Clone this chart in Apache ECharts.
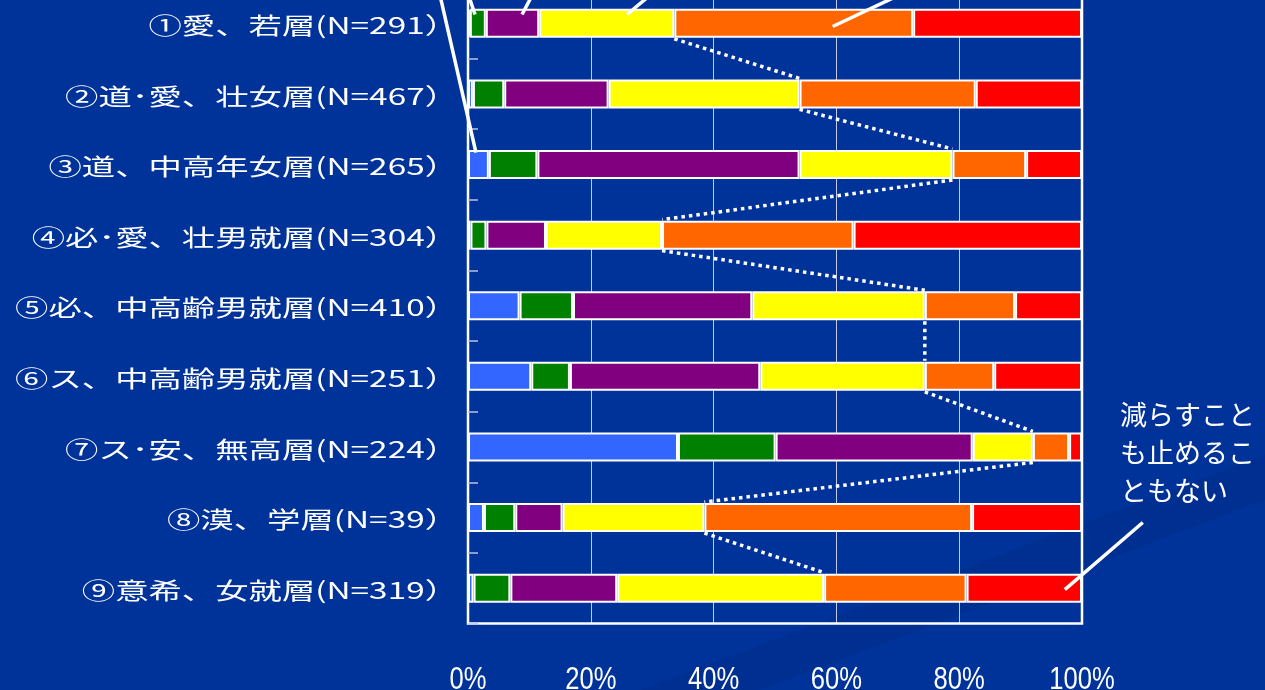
<!DOCTYPE html>
<html>
<head>
<meta charset="utf-8">
<script src="https://cdn.jsdelivr.net/npm/echarts@6/dist/echarts.min.js"></script>
<style>
  html, body { margin: 0; padding: 0; background: #003399; }
  #chart { width: 1265px; height: 690px; }
</style>
</head>
<body>
<div id="chart"></div>
<script>
// Groups (top to bottom)
const categories = [
  '①愛、若層(N=291）',
  '②道･愛、壮女層(N=467）',
  '③道、中高年女層(N=265）',
  '④必･愛、壮男就層(N=304）',
  '⑤必、中高齢男就層(N=410）',
  '⑥ス、中高齢男就層(N=251）',
  '⑦ス･安、無高層(N=224）',
  '⑧漠、学層(N=39）',
  '⑨意希、女就層(N=319）'
];

// Share of each answer per group, in percent
const blueVals   = [0.3, 0.8, 3.4, 0.4, 8.4, 10.3, 34.2, 2.6, 0.9];
const greenVals  = [2.6, 5.1, 7.9, 2.6, 8.7, 6.3, 15.9, 5.1, 6.0];
const purpleVals = [8.7, 17.0, 42.7, 9.7, 29.2, 31.0, 32.1, 7.7, 17.4];
const yellowVals = [22.0, 31.1, 24.9, 18.9, 28.1, 26.8, 9.8, 23.1, 33.7];
const orangeVals = [38.9, 28.7, 12.0, 31.2, 14.7, 11.3, 5.9, 43.6, 23.2];
const redVals    = [27.5, 17.3, 9.1, 37.2, 10.9, 14.3, 2.1, 17.9, 18.8];

const xTicks = [0, 20, 40, 60, 80, 100];
const xTickLabels = ['0%', '20%', '40%', '60%', '80%', '100%'];
const noteText = '減らすことも止めることもない';

const BAR_W = 29;
const chart = echarts.init(document.getElementById('chart'), null, { renderer: 'canvas' });

function barSeries(name, values, color) {
  return {
    name: name,
    type: 'bar',
    stack: 'total',
    barWidth: BAR_W,
    data: values,
    silent: true,
    itemStyle: { color: color, borderColor: '#ffffff', borderWidth: 2 }
  };
}

// Boundary between the yellow and orange blocks, linked bar to bar
const cumYellow = categories.map((_, i) => blueVals[i] + greenVals[i] + purpleVals[i] + yellowVals[i]);
const linkData = cumYellow.slice(0, -1).map((v, i) => [i, v, cumYellow[i + 1]]);

chart.setOption({
  animation: false,
  backgroundColor: '#003399',
  grid: {
    left: 468, right: 183, top: -12, bottom: 66.5,
    outerBoundsMode: 'none',
    containLabel: false,
    show: true, borderColor: '#ffffff', borderWidth: 2.5, backgroundColor: 'transparent'
  },
  xAxis: {
    type: 'value', min: 0, max: 100, interval: 20,
    axisLine: { show: false },
    axisTick: { show: false },
    splitLine: { show: true, lineStyle: { color: 'rgba(255,255,255,0.75)', width: 1 } },
    axisLabel: { show: false }
  },
  yAxis: {
    type: 'category', data: categories, inverse: true,
    axisLine: { show: true, lineStyle: { color: '#ffffff', width: 2 } },
    axisTick: { show: true, inside: true, length: 10, lineStyle: { color: '#b8c2dc', width: 1.5 } },
    axisLabel: { show: false },
    splitLine: { show: false }
  },
  series: [
    barSeries('区分1', blueVals, '#3366ff'),
    barSeries('区分2', greenVals, '#008000'),
    barSeries('区分3', purpleVals, '#800080'),
    barSeries('区分4', yellowVals, '#ffff00'),
    barSeries('区分5', orangeVals, '#ff6600'),
    barSeries(noteText, redVals, '#ff0000'),
    {
      type: 'custom',
      silent: true,
      z: 5,
      data: linkData,
      encode: { x: [1, 2], y: 0 },
      renderItem: function (params, api) {
        const i = api.value(0);
        const a = api.coord([api.value(1), i]);
        const b = api.coord([api.value(2), i + 1]);
        const h = BAR_W / 2 + 1;
        return {
          type: 'line',
          shape: { x1: a[0], y1: a[1] + h, x2: b[0], y2: b[1] - h },
          style: { stroke: '#ffffff', lineWidth: 3.5, lineDash: [3.5, 4], lineCap: 'butt' }
        };
      }
    }
  ]
});

// Pixel helpers built on the chart's own axes
const y0 = chart.convertToPixel({ yAxisIndex: 0 }, categories[0]);
const yStep = chart.convertToPixel({ yAxisIndex: 0 }, categories[1]) - y0;
const xPix = v => chart.convertToPixel({ xAxisIndex: 0 }, v);
const at = (v, c) => [xPix(v), y0 + c * yStep];
const plotBottom = y0 + (categories.length - 0.5) * yStep;

// Leader lines: [value, row] from -> [value, row] to
const callouts = [
  [[-5.15, -0.62], [1.3, 1.83]],
  [[-0.77, -0.62], [1.14, -0.125]],
  [[11.8, -0.62], [8.8, -0.125]],
  [[32.7, -0.62], [25.9, -0.125]],
  [[75.6, -0.62], [59.4, 0.045]],
  [[109.9, 7.07], [97.2, 8.02]]
];

const graphics = [];

// Faint darker band in the backdrop
graphics.push({
  type: 'polygon',
  silent: true,
  z: -10,
  shape: { points: [[640, 690], [1265, 455], [1265, 500], [760, 690]] },
  style: { fill: 'rgba(0, 35, 120, 0.2)' }
});

// Group labels, right-aligned against the axis
const labelRight = xPix(0) - 10;
categories.forEach((name, i) => {
  graphics.push({
    type: 'text',
    x: labelRight,
    y: y0 + i * yStep + 2,
    scaleX: 1.45,
    silent: true,
    style: {
      text: name,
      align: 'right',
      verticalAlign: 'middle',
      fill: '#ffffff',
      font: '23px "Noto Sans CJK JP", sans-serif'
    }
  });
});

// Percent scale under the plot, in a narrow face
xTicks.forEach((v, k) => {
  graphics.push({
    type: 'text',
    x: xPix(v),
    y: plotBottom + 41,
    scaleX: 0.8,
    silent: true,
    style: {
      text: xTickLabels[k],
      align: 'center',
      verticalAlign: 'top',
      fill: '#ffffff',
      font: '32px "Liberation Sans", Arial, sans-serif'
    }
  });
});

callouts.forEach(([from, to]) => {
  const p = at(from[0], from[1]);
  const q = at(to[0], to[1]);
  graphics.push({
    type: 'line',
    silent: true,
    z: 10,
    shape: { x1: p[0], y1: p[1], x2: q[0], y2: q[1] },
    style: { stroke: '#ffffff', lineWidth: 3.5 }
  });
});

// Note for the red block
const noteLines = [noteText.slice(0, 5), noteText.slice(5, 10), noteText.slice(10)];
graphics.push({
  type: 'text',
  x: 1120,
  y: 396,
  silent: true,
  style: {
    text: noteLines.join('\n'),
    fill: '#ffffff',
    font: '27px "Noto Sans CJK JP", sans-serif',
    lineHeight: 38,
    align: 'left',
    verticalAlign: 'top'
  }
});

chart.setOption({ graphic: graphics });
</script>
</body>
</html>
